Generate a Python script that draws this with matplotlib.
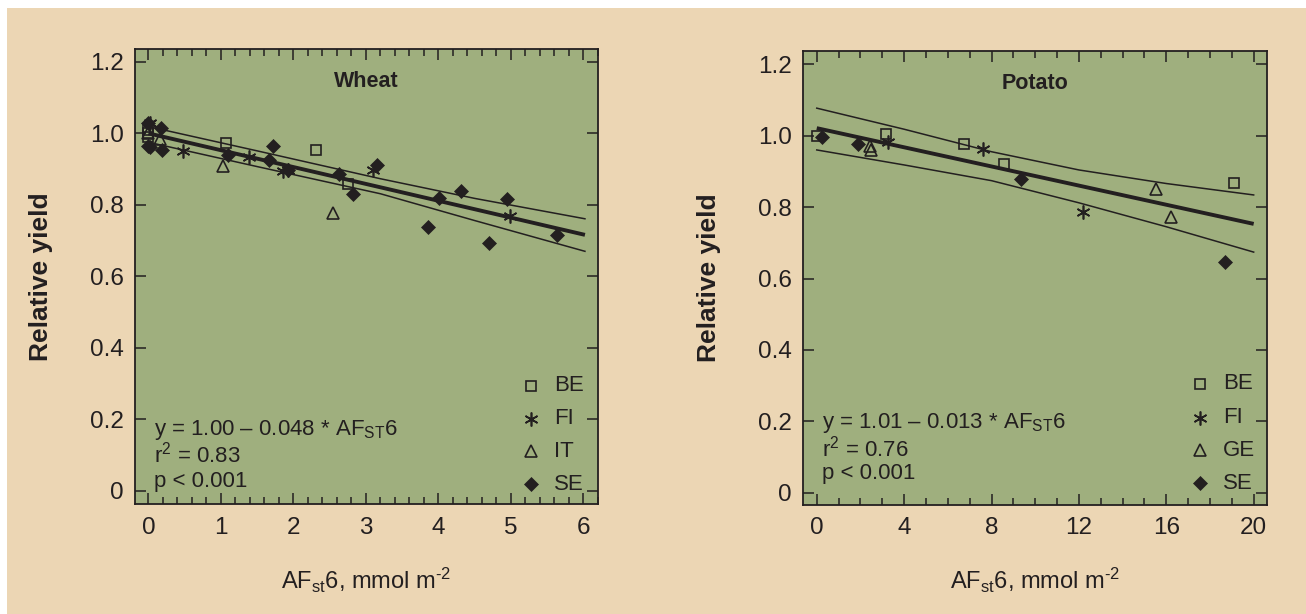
"""
    Relative yield vs AFst6 for wheat and potato
"""
import matplotlib
matplotlib.use('Agg')
import matplotlib.pyplot as plt
from matplotlib.patches import Rectangle
from matplotlib.ticker import MultipleLocator

plt.rcParams['font.family'] = ['Liberation Sans', 'DejaVu Sans']
plt.rcParams['mathtext.fontset'] = 'custom'
plt.rcParams['mathtext.rm'] = 'Liberation Sans'
plt.rcParams['mathtext.it'] = 'Liberation Sans'

BEIGE = '#ECD6B4'
GREEN = '#9FAF7E'
INK = '#231F20'

# ---- wheat data ----
wheat_be_x = [0.0, 0.0, 0.0, 1.07, 2.31, 2.75]
wheat_be_y = [1.00, 1.01, 0.99, 0.973, 0.953, 0.858]
wheat_fi_x = [0.02, 0.48, 1.39, 1.86, 1.93, 3.10, 4.98]
wheat_fi_y = [1.03, 0.952, 0.933, 0.894, 0.897, 0.898, 0.768]
wheat_it_x = [0.0, 0.16, 1.03, 2.54]
wheat_it_y = [1.00, 0.984, 0.910, 0.777]
wheat_se_x = [0.0, 0.0, 0.02, 0.18, 0.19, 1.10, 1.66, 1.72, 1.93, 2.63,
              2.82, 3.15, 3.86, 4.01, 4.31, 4.69, 4.94, 5.64]
wheat_se_y = [1.03, 0.966, 0.962, 1.014, 0.953, 0.940, 0.926, 0.964, 0.898, 0.885,
              0.830, 0.912, 0.739, 0.819, 0.839, 0.693, 0.815, 0.715]
wheat_fit_x = [0.0, 6.02]
wheat_fit_y = [1.00, 0.716]
wheat_up_x = [0.0, 1.5, 3.2, 4.5, 6.02]
wheat_up_y = [1.019, 0.951, 0.873, 0.818, 0.761]
wheat_lo_x = [0.07, 1.5, 3.2, 4.5, 6.02]
wheat_lo_y = [0.972, 0.907, 0.831, 0.756, 0.670]

# ---- potato data ----
potato_be_x = [0.0, 3.19, 6.74, 8.59, 19.1]
potato_be_y = [1.00, 1.005, 0.977, 0.920, 0.868]
potato_fi_x = [3.27, 7.63, 12.2]
potato_fi_y = [0.983, 0.962, 0.787]
potato_ge_x = [2.43, 2.50, 15.55, 16.2]
potato_ge_y = [0.972, 0.960, 0.851, 0.773]
potato_se_x = [0.22, 1.87, 9.33, 18.67]
potato_se_y = [0.995, 0.976, 0.880, 0.647]
potato_fit_x = [0.0, 20.0]
potato_fit_y = [1.021, 0.753]
potato_up_x = [0.0, 4.0, 8.0, 12.0, 16.0, 20.0]
potato_up_y = [1.077, 1.018, 0.955, 0.904, 0.866, 0.834]
potato_lo_x = [0.0, 4.0, 8.0, 12.0, 16.0, 20.0]
potato_lo_y = [0.960, 0.918, 0.874, 0.812, 0.745, 0.674]

y_ticks = [0, 0.2, 0.4, 0.6, 0.8, 1.0, 1.2]
y_labels = ['0', '0.2', '0.4', '0.6', '0.8', '1.0', '1.2']

MARK = {
    'sq': dict(marker='s', ms=7, mfc='none', mec=INK, mew=1.2),
    'ast': dict(marker=(6, 2, 0), ms=10, mfc=INK, mec=INK, mew=1.2),
    'tri': dict(marker='^', ms=8, mfc='none', mec=INK, mew=1.2),
    'dia': dict(marker='D', ms=7, mfc=INK, mec=INK, mew=0.5),
}


def draw_panel(ax, title, series, fit, up, lo, eq, r2, xlim, ylim,
               xmaj, xmin, eq_y, leg_y):
    ax.set_facecolor(GREEN)
    ax.plot(up[0], up[1], color=INK, lw=1.1)
    ax.plot(lo[0], lo[1], color=INK, lw=1.1)
    ax.plot(fit[0], fit[1], color=INK, lw=2.8, solid_capstyle='butt')
    for name, xs, ys, key in series:
        ax.plot(xs, ys, ls='none', **MARK[key])

    ax.set_xlim(*xlim)
    ax.set_ylim(*ylim)
    ax.xaxis.set_major_locator(MultipleLocator(xmaj))
    ax.xaxis.set_minor_locator(MultipleLocator(xmin))
    ax.set_yticks(y_ticks)
    ax.set_yticklabels(y_labels)
    ax.tick_params(which='both', direction='in', top=True, right=True,
                   color=INK, width=1.1, labelsize=17.5, labelcolor=INK)
    ax.tick_params(which='major', length=8)
    ax.tick_params(which='minor', length=5)
    ax.tick_params(axis='x', pad=9)
    ax.tick_params(axis='y', pad=8)
    for sp in ax.spines.values():
        sp.set_color(INK)
        sp.set_linewidth(1.3)

    ax.set_ylabel('Relative yield', fontsize=19, fontweight='bold', color=INK)
    ax.yaxis.set_label_coords(-0.177, 0.5)
    ax.set_xlabel('AF$_{\\mathrm{st}}$6, mmol m$^{\\mathrm{\u20102}}$', fontsize=17, color=INK)
    ax.xaxis.set_label_coords(0.5, -0.135)

    ax.text(0.5, 0.928, title, transform=ax.transAxes, ha='center', va='center',
            fontsize=15.5, fontweight='bold', color=INK)

    lines = [eq, r'r$^{\mathrm{2}}$ = ' + r2, 'p < 0.001']
    for txt, yy in zip(lines, eq_y):
        ax.text(0.04, yy, txt, transform=ax.transAxes, ha='left', va='center',
                fontsize=16, color=INK)

    for (name, xs, ys, key), yy in zip(series, leg_y):
        ax.plot([0.855], [yy], transform=ax.transAxes, ls='none', clip_on=False, **MARK[key])
        ax.text(0.905, yy, name, transform=ax.transAxes, ha='left', va='center',
                fontsize=16, color=INK)


fig = plt.figure(figsize=(13.06, 6.14), dpi=100)
fig.patch.set_facecolor('white')
fig.patches.append(Rectangle((7 / 1306, 0), 1 - 7 / 1306, 1 - 8 / 614,
                             transform=fig.transFigure, facecolor=BEIGE,
                             edgecolor='none', zorder=-1))

ax1 = fig.add_axes([135 / 1306, 110 / 614, 463 / 1306, 455 / 614])
ax2 = fig.add_axes([803 / 1306, 109 / 614, 464 / 1306, 454 / 614])

draw_panel(ax1, 'Wheat',
           [('BE', wheat_be_x, wheat_be_y, 'sq'),
            ('FI', wheat_fi_x, wheat_fi_y, 'ast'),
            ('IT', wheat_it_x, wheat_it_y, 'tri'),
            ('SE', wheat_se_x, wheat_se_y, 'dia')],
           (wheat_fit_x, wheat_fit_y), (wheat_up_x, wheat_up_y), (wheat_lo_x, wheat_lo_y),
           r'y = 1.00 – 0.048 * AF$_{\mathrm{ST}}$6', '0.83',
           (-0.185, 6.2), (-0.037, 1.236), 1, 0.2,
           [0.163, 0.108, 0.049], [0.26, 0.187, 0.116, 0.043])

draw_panel(ax2, 'Potato',
           [('BE', potato_be_x, potato_be_y, 'sq'),
            ('FI', potato_fi_x, potato_fi_y, 'ast'),
            ('GE', potato_ge_x, potato_ge_y, 'tri'),
            ('SE', potato_se_x, potato_se_y, 'dia')],
           (potato_fit_x, potato_fit_y), (potato_up_x, potato_up_y), (potato_lo_x, potato_lo_y),
           r'y = 1.01 – 0.013 * AF$_{\mathrm{ST}}$6', '0.76',
           (-0.63, 20.61), (-0.034, 1.237), 4, 1,
           [0.18, 0.125, 0.07], [0.267, 0.192, 0.121, 0.048])

fig.savefig('out.png', dpi=100, facecolor=fig.get_facecolor())
